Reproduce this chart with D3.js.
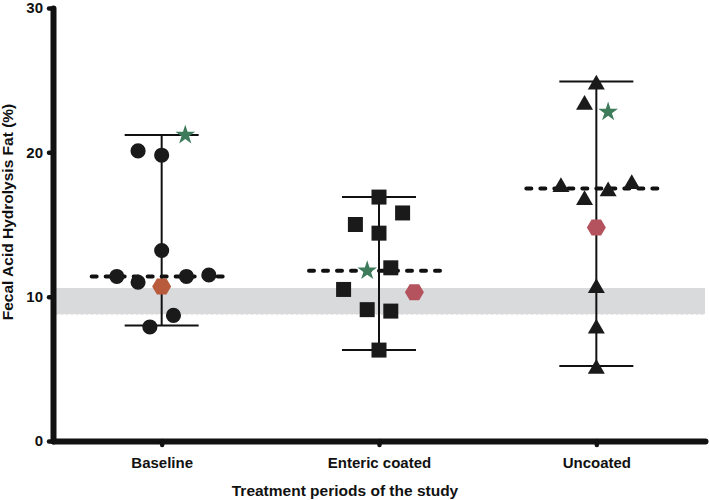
<!DOCTYPE html>
<html>
<head>
<meta charset="utf-8">
<script src="https://cdn.jsdelivr.net/npm/d3@7"></script>
<style>
  body { margin: 0; background: #fff; }
  text { font-family: "Liberation Sans", Arial, sans-serif; font-weight: bold; }
</style>
</head>
<body>
<svg id="chart" width="709" height="500"></svg>
<script>
// groups on the x axis
const categories = ['Baseline', 'Enteric coated', 'Uncoated']
const yTicks = [0, 10, 20, 30]

// individual patients (value, horizontal slot within the group)
const baselineValues = [20.1, 19.8, 13.2, 11.4, 11.0, 11.4, 11.5, 8.7, 7.9]
const baselineSlots  = [-2, 0, 0, -3.8, -2, 2.1, 4, 1, -1]
const entericValues  = [16.9, 15.8, 15.0, 14.4, 12.0, 10.5, 9.1, 9.0, 6.3]
const entericSlots   = [0, 2, -2, 0, 1, -3, -1, 1, 0]
const uncoatedValues = [24.8, 23.4, 17.7, 16.8, 17.4, 17.9, 10.7, 7.9, 5.1]
const uncoatedSlots  = [0, -1, -3, -1, 1, 3, 0, 0, 0]

// highlighted patients per group (star, hexagon)
const starValues = [21.2, 11.8, 22.8]
const starSlots  = [2, -1, 1]
const hexValues  = [10.7, 10.3, 14.8]
const hexSlots   = [0, 3, 0]

// median and range per group
const medians = [11.4, 11.8, 17.5]
const rangeLow  = [8.0, 6.3, 5.2]
const rangeHigh = [21.2, 16.9, 24.9]

// normal range band
const normalBand = [8.75, 10.6]

const svg = d3.select('#chart')
const x = d3.scalePoint().domain(categories).range([53, 705]).padding(0.5)
const y = d3.scaleLinear().domain([0, 30]).range([441, 8])
const slot = d3.scaleLinear().domain([-1, 1]).range([-11.8, 11.8])

// grey band
svg.append('rect')
  .attr('x', x.range()[0]).attr('width', x.range()[1] - x.range()[0])
  .attr('y', y(normalBand[1])).attr('height', y(normalBand[0]) - y(normalBand[1]))
  .attr('fill', '#d9dadc')
svg.append('line')
  .attr('x1', x.range()[0]).attr('x2', x.range()[1])
  .attr('y1', y(normalBand[0])).attr('y2', y(normalBand[0]))
  .attr('stroke', '#fff').attr('stroke-width', 1).attr('stroke-dasharray', '3,2')

const groups = categories.map((c, i) => ({ cat: c, i }))

// range bars
const g = svg.append('g')
g.selectAll('.vline').data(groups).join('line')
  .attr('x1', d => x(d.cat)).attr('x2', d => x(d.cat))
  .attr('y1', d => y(rangeLow[d.i])).attr('y2', d => y(rangeHigh[d.i]))
  .attr('stroke', '#111').attr('stroke-width', 2)
const capW = 37
;[rangeLow, rangeHigh].forEach(arr => {
  g.selectAll(null).data(groups).join('line')
    .attr('x1', d => x(d.cat) - capW).attr('x2', d => x(d.cat) + capW)
    .attr('y1', d => y(arr[d.i])).attr('y2', d => y(arr[d.i]))
    .attr('stroke', '#111').attr('stroke-width', 2)
})

// dashed medians
g.selectAll('.med').data(groups).join('line')
  .attr('x1', d => x(d.cat) - 70).attr('x2', d => x(d.cat) + 70)
  .attr('y1', d => y(medians[d.i])).attr('y2', d => y(medians[d.i]))
  .attr('stroke', '#111').attr('stroke-width', 4)
  .attr('stroke-linecap', 'round').attr('stroke-dasharray', '5,9')

// points
const sets = [
  { vals: baselineValues, slots: baselineSlots, sym: d3.symbolCircle, size: 180 },
  { vals: entericValues, slots: entericSlots, sym: d3.symbolSquare, size: 225 },
  { vals: uncoatedValues, slots: uncoatedSlots, sym: d3.symbolTriangle, size: 125 }
]
sets.forEach((s, i) => {
  const pts = s.vals.map((v, k) => ({ v, s: s.slots[k] }))
  g.selectAll(null).data(pts).join('path')
    .attr('d', d3.symbol().type(s.sym).size(s.size))
    .attr('transform', d => `translate(${x(categories[i]) + slot(d.s)},${y(d.v) + (s.sym === d3.symbolTriangle ? 1.5 : 0)})`)
    .attr('fill', '#1a1a1a')
})

const hexColors = ['#b85a3c', '#b4525d', '#b4525d']
const hexPath = (() => {
  const w = 9.5, h = 8
  return `M${-w},0L${-w / 2},${-h}L${w / 2},${-h}L${w},0L${w / 2},${h}L${-w / 2},${h}Z`
})()
g.selectAll('.hex').data(groups).join('path')
  .attr('d', hexPath)
  .attr('transform', d => `translate(${x(d.cat) + slot(hexSlots[d.i])},${y(hexValues[d.i])})`)
  .attr('fill', d => hexColors[d.i])
g.selectAll('.star').data(groups).join('path')
  .attr('d', d3.symbol().type(d3.symbolStar).size(120))
  .attr('transform', d => `translate(${x(d.cat) + slot(starSlots[d.i])},${y(starValues[d.i])})`)
  .attr('fill', '#3d7b5a')

// axes
const yAxis = svg.append('g').attr('transform', `translate(${x.range()[0]},0)`)
  .call(d3.axisLeft(y).tickValues(yTicks).tickSize(4).tickSizeOuter(0).tickPadding(6))
const xAxis = svg.append('g').attr('transform', `translate(0,${y(0)})`)
  .call(d3.axisBottom(x).tickSize(4).tickSizeOuter(0).tickPadding(12))
;[yAxis, xAxis].forEach(a => {
  a.select('.domain').attr('stroke', '#111').attr('stroke-width', 6).attr('stroke-linecap', 'round')
  a.selectAll('.tick line').attr('stroke', '#111').attr('stroke-width', 4.5).attr('stroke-linecap', 'round')
  a.selectAll('.tick text').attr('fill', '#111').style('font-size', '15px')
})

svg.append('text')
  .attr('transform', `translate(13,212) rotate(-90)`)
  .attr('text-anchor', 'middle')
  .style('font-size', '15.5px').attr('fill', '#111')
  .text('Fecal Acid Hydrolysis Fat (%)')
svg.append('text')
  .attr('x', 345).attr('y', 496)
  .attr('text-anchor', 'middle')
  .style('font-size', '15.5px').attr('fill', '#111')
  .text('Treatment periods of the study')
</script>
</body>
</html>
